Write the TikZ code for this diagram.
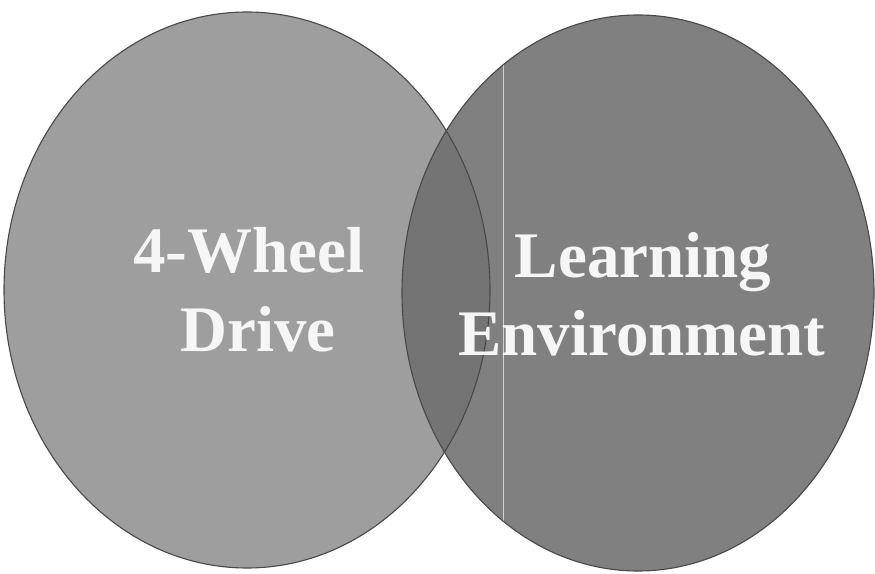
\documentclass[tikz,border=0pt]{standalone}
\usepackage{fontspec}
\setmainfont{Liberation Serif}
\definecolor{leftgray}{RGB}{158,158,158}
\definecolor{rightgray}{RGB}{128,128,128}
\definecolor{overgray}{RGB}{116,116,116}
\definecolor{rimgray}{RGB}{72,72,72}
\definecolor{labelwhite}{RGB}{246,246,246}
\begin{document}
\begin{tikzpicture}[x=1pt,y=1pt,
  rim/.style={draw=rimgray,line width=1.1pt},
  label/.style={text=labelwhite,font=\bfseries\fontsize{65}{78}\selectfont,anchor=base,inner sep=0pt}]
\useasboundingbox (0,0) rectangle (875,573);
\fill[white] (0,0) rectangle (875,573);
% ellipses
\fill[leftgray] (247,283) ellipse [x radius=243, y radius=278];
\fill[rightgray] (638,280) ellipse [x radius=236, y radius=278];
\begin{scope}
  \clip (247,283) ellipse [x radius=243, y radius=278];
  \fill[overgray] (638,280) ellipse [x radius=236, y radius=278];
\end{scope}
% faint scan line in right disc
\begin{scope}
  \clip (638,280) ellipse [x radius=236, y radius=278];
  \draw[gray!35!white,line width=0.8pt] (503,573) -- (503,0);
\end{scope}
\draw[rim] (247,283) ellipse [x radius=243, y radius=278];
\draw[rim] (638,280) ellipse [x radius=236, y radius=278];
% labels
\node[label] (wheelA) at (249,300) {4-Wheel};
\node[label] (wheelB) at (258,221) {Drive};
\node[label] (learnA) at (643,295) {Learning};
\node[label] (learnB) at (642,217) {Environment};
\end{tikzpicture}
\end{document}
